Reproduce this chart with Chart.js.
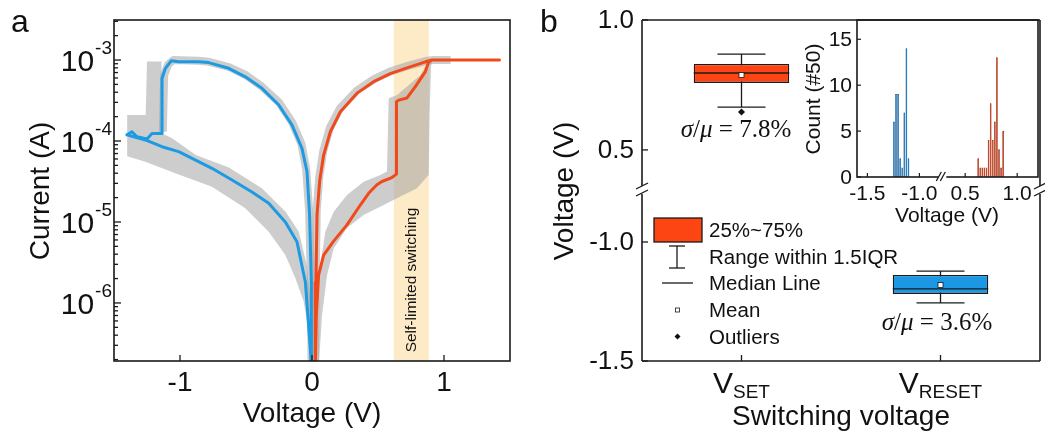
<!DOCTYPE html>
<html>
<head>
<meta charset="utf-8">
<script src="https://cdn.jsdelivr.net/npm/chart.js@4.4.1/dist/chart.umd.min.js"></script>
<style>
  body { margin: 0; background: #fff; }
  #wrap { position: relative; width: 1045px; height: 438px; overflow: hidden; }
  canvas { position: absolute; }
</style>
</head>
<body>
<div id="wrap">
  <canvas id="panelA" width="530" height="438" style="left:0;top:0"></canvas>
  <canvas id="panelB" width="515" height="438" style="left:530px;top:0"></canvas>
  <canvas id="inset" width="255" height="240" style="left:790px;top:0"></canvas>
</div>
<script>
// ---- panel a : I-V sweeps (V in volt, I in ampere) ----
// RESET sweep (blue): 0 -> -1.4 V on LRS, reset, back on HRS
var resetV = [-0.003, -0.005, -0.018, -0.038, -0.076, -0.152, -0.253, -0.379, -0.505, -0.631, -0.783, -0.859, -1.010, -1.066, -1.111, -1.136,
  -1.136, -1.212, -1.25, -1.326, -1.364, -1.402, -1.263, -1.136, -1.01, -0.758, -0.606, -0.455, -0.328, -0.202, -0.114, -0.05, -0.013, -0.003];
var resetI = [1.5e-7, 1.8e-6, 1.2e-5, 4.2e-5, 8.1e-5, 1.58e-4, 2.8e-4, 4.47e-4, 6.2e-4, 7.9e-4, 9.3e-4, 9.5e-4, 9.5e-4, 9.8e-4, 7.9e-4, 5.9e-4,
  1.24e-4, 1.24e-4, 1.06e-4, 1.13e-4, 1.3e-4, 1.19e-4, 1.03e-4, 8.5e-5, 7.4e-5, 4.6e-5, 3.3e-5, 2.34e-5, 1.7e-5, 1.0e-5, 5.7e-6, 1.8e-6, 2.75e-7, 1.5e-7];
// SET sweep (red): 0 -> 1.4 V, set, compliance, back on LRS
var setV = [0.025, 0.033, 0.05, 0.088, 0.164, 0.265, 0.366, 0.429, 0.492, 0.53, 0.60, 0.64, 0.64, 0.657, 0.72, 0.783, 0.859, 0.884, 0.909, 1.42,
  0.909, 0.859, 0.72, 0.593, 0.467, 0.341, 0.215, 0.139, 0.088, 0.058, 0.038, 0.03, 0.025];
var setI = [1.5e-7, 7.1e-7, 2.2e-6, 3.9e-6, 5.8e-6, 9.2e-6, 1.62e-5, 2.26e-5, 2.88e-5, 3.16e-5, 3.5e-5, 3.9e-5, 3.05e-4, 3.2e-4, 3.4e-4, 4.7e-4, 7.2e-4, 9.5e-4, 1.0e-3, 1.0e-3,
  1.0e-3, 9.5e-4, 8.0e-4, 6.8e-4, 5.4e-4, 3.9e-4, 2.3e-4, 1.3e-4, 6.7e-5, 3.2e-5, 1.23e-5, 1.8e-6, 1.5e-7];
// grey envelopes of the 50 cycles (outline points)
var greyNegV = [-1.40, -1.26, -1.25, -1.14, -1.14, -1.06, -0.88, -0.63, -0.38, -0.20, -0.10, -0.04, 0.0, 0.015,
  -0.005, -0.025, -0.063, -0.126, -0.202, -0.328, -0.505, -0.758, -1.01, -1.263, -1.40];
var greyNegI = [2.1e-4, 2.1e-4, 9.6e-4, 9.6e-4, 1.25e-4, 1.08e-4, 6.7e-5, 4.7e-5, 2.6e-5, 1.34e-5, 7.6e-6, 2.95e-6, 7.1e-7, 1.5e-7,
  1.5e-7, 4.4e-7, 1.04e-6, 2.02e-6, 3.9e-6, 7.6e-6, 1.48e-5, 2.73e-5, 3.87e-5, 5.56e-5, 6.46e-5];
var greySetV = [0.038, 0.05, 0.063, 0.101, 0.164, 0.265, 0.391, 0.518, 0.568, 0.581, 0.644, 0.72, 0.82, 0.871, 0.922,
  0.902, 0.891, 0.884, 0.795, 0.669, 0.543, 0.391, 0.265, 0.164, 0.114, 0.076, 0.05];
var greySetI = [1.5e-7, 7.1e-7, 2.94e-6, 7.6e-6, 1.34e-5, 2.15e-5, 3.15e-5, 3.8e-5, 4.2e-5, 3.37e-4, 3.7e-4, 4.7e-4, 6.5e-4, 8.9e-4, 1.02e-3,
  8.7e-4, 2.1e-4, 3.8e-5, 2.6e-5, 2.06e-5, 1.62e-5, 1.22e-5, 8.4e-6, 4.7e-6, 2.2e-6, 7.1e-7, 1.5e-7];
var greyLrsNegV = [-1.13, -1.12, -1.09, -1.05, -0.86, -0.78, -0.63, -0.50, -0.38, -0.25, -0.15, -0.08, -0.045, -0.022, -0.01, -0.003];
var greyLrsNegI = [1.3e-4, 6.5e-4, 8.8e-4, 1.0e-3, 9.8e-4, 9.5e-4, 8.2e-4, 6.5e-4, 4.7e-4, 3.0e-4, 1.7e-4, 9.2e-5, 4.6e-5, 1.4e-5, 2.5e-6, 1.5e-7];
var greyLrsPosV = [0.022, 0.028, 0.036, 0.055, 0.085, 0.135, 0.21, 0.34, 0.47, 0.59, 0.72, 0.86, 0.92, 1.05];
var greyLrsPosI = [1.5e-7, 2e-6, 1.4e-5, 3.6e-5, 7.5e-5, 1.45e-4, 2.5e-4, 4.2e-4, 5.8e-4, 7.2e-4, 8.4e-4, 9.7e-4, 1.0e-3, 1.0e-3];
var bandV = [0.62, 0.885];
var decadeTicks = [-3, -4, -5, -6];
var voltTicksA = [-1, 0, 1];

// ---- panel b : box plot of switching voltages ----
var boxNames = ['SET', 'RESET'];
var boxQ1 = [0.758, -1.218];
var boxQ3 = [0.831, -1.139];
var boxMedian = [0.796, -1.197];
var boxMean = [0.788, -1.181];
var whiskerLow = [0.665, -1.256];
var whiskerHigh = [0.869, -1.122];
var boxOutliers = [[0.646], []];
var boxSigma = ['7.8%', '3.6%'];
var yTicksTop = [1.0, 0.5];
var yTicksBot = [-1.0, -1.5];
var legendRows = ['25%~75%', 'Range within 1.5IQR', 'Median Line', 'Mean', 'Outliers'];

// ---- inset : histogram, 0.02 V bins ----
var resetBins = [-1.24, -1.22, -1.20, -1.18, -1.16, -1.14, -1.12, -1.10];
var resetCounts = [6, 9, 9, 2, 1, 7, 14, 2];
var setBins = [0.62, 0.64, 0.66, 0.68, 0.70, 0.72, 0.74, 0.76, 0.78, 0.80, 0.82, 0.84, 0.86];
var setCounts = [2, 1, 1, 1, 1, 4, 8, 4, 6, 13, 3, 1, 5];
var countTicks = [0, 5, 10, 15];
var insetTicksL = [-1.5, -1.0];
var insetTicksR = [0.5, 1.0];

var sans = '"Liberation Sans", Arial, Helvetica, sans-serif';
var serif = '"Liberation Serif", "Times New Roman", serif';
var ink = '#1a1a1a';
var blue = '#1d9be2';
var red = '#f0491c';
var boxRed = '#fd4514';
var boxBlue = '#1b97e3';
var grey = 'rgba(160,160,160,0.52)';

Chart.defaults.font.family = sans;
Chart.defaults.color = '#000';

function pts(xs, ys) {
  return xs.map(function(v, i) { return {x: v, y: ys[i]}; });
}

function line(ctx, x0, y0, x1, y1) {
  ctx.beginPath();
  ctx.moveTo(x0, y0);
  ctx.lineTo(x1, y1);
  ctx.stroke();
}

function text(ctx, s, x, y, font, align, base) {
  ctx.font = font;
  ctx.textAlign = align || 'left';
  ctx.textBaseline = base || 'alphabetic';
  ctx.fillText(s, x, y);
}

function vtext(ctx, s, x, y, font) {
  ctx.save();
  ctx.translate(x, y);
  ctx.rotate(-Math.PI / 2);
  text(ctx, s, 0, 0, font, 'center', 'middle');
  ctx.restore();
}

// two slanted strokes over a gap in an axis line
function axisBreak(ctx, x, y, vertical) {
  ctx.save();
  ctx.fillStyle = '#fff';
  ctx.strokeStyle = ink;
  ctx.lineWidth = 1.3;
  if (vertical) {
    ctx.fillRect(x - 3, y - 4, 6, 8);
    line(ctx, x - 6, y - 1, x + 6, y - 7);
    line(ctx, x - 6, y + 6, x + 6, y);
  } else {
    ctx.fillRect(x - 4, y - 3, 8, 6);
    line(ctx, x - 6, y + 4, x - 1, y - 5);
    line(ctx, x - 2, y + 4, x + 3, y - 5);
  }
  ctx.restore();
}

function fixedSize(w, h) {
  return function(scale) {
    if (w !== null) scale.width = w;
    if (h !== null) scale.height = h;
  };
}

var hidden = {ticks: {display: false}, grid: {display: false}, border: {display: false}};

function axis(extra) {
  return Object.assign({}, hidden, extra);
}

// ---------------- panel a ----------------
var panelAPlugin = {
  id: 'panelA',
  beforeDatasetsDraw: function(chart) {
    var ctx = chart.ctx, a = chart.chartArea, x = chart.scales.x;
    var x0 = x.getPixelForValue(bandV[0]), x1 = x.getPixelForValue(bandV[1]);
    ctx.save();
    ctx.fillStyle = '#fdebc8';
    ctx.fillRect(x0, a.top, x1 - x0, a.bottom - a.top);
    ctx.restore();
  },
  afterDatasetsDraw: function(chart) {
    var ctx = chart.ctx, a = chart.chartArea, x = chart.scales.x, y = chart.scales.y;
    ctx.save();
    ctx.fillStyle = '#111';
    vtext(ctx, 'Self-limited switching', (x.getPixelForValue(bandV[0]) + x.getPixelForValue(bandV[1])) / 2, 280, '15.5px ' + sans);

    ctx.strokeStyle = ink;
    ctx.lineWidth = 1.6;
    ctx.strokeRect(a.left, a.top, a.right - a.left, a.bottom - a.top);
    ctx.lineWidth = 1.3;
    for (var e = -7; e <= -3; e++) {
      for (var m = 1; m <= 9; m++) {
        var v = m * Math.pow(10, e);
        if (v < y.min || v > y.max) continue;
        var py = y.getPixelForValue(v);
        line(ctx, a.left, py, a.left + (m === 1 ? 7 : 4), py);
      }
    }
    voltTicksA.forEach(function(t) {
      var px = x.getPixelForValue(t);
      line(ctx, px, a.bottom, px, a.bottom - 6);
      text(ctx, String(t), px, 391, '28px ' + sans, 'center');
    });
    decadeTicks.forEach(function(d) {
      var py = y.getPixelForValue(Math.pow(10, d));
      ctx.font = '19px ' + sans;
      var ew = ctx.measureText(String(d)).width;
      text(ctx, String(d), a.left - 2, py - 6, '19px ' + sans, 'right');
      text(ctx, '10', a.left - 3 - ew, py + 11, '30px ' + sans, 'right');
    });
    vtext(ctx, 'Current (A)', 41, 191, '28px ' + sans);
    text(ctx, 'Voltage (V)', (a.left + a.right) / 2, 422, '28px ' + sans, 'center');
    text(ctx, 'a', 11, 32, '32px ' + sans, 'left');
    ctx.restore();
  }
};

function greyShape(xs, ys) {
  return {data: pts(xs, ys), showLine: true, fill: 'shape', backgroundColor: grey,
    borderColor: 'rgba(0,0,0,0)', borderWidth: 0, pointRadius: 0, order: 3};
}

function greyLine(xs, ys) {
  return {data: pts(xs, ys), showLine: true, fill: false, borderColor: grey,
    borderWidth: 8, borderJoinStyle: 'round', pointRadius: 0, order: 2};
}

new Chart(document.getElementById('panelA'), {
  type: 'scatter',
  data: {
    datasets: [
      {data: pts(resetV, resetI), showLine: true, borderColor: blue, borderWidth: 3, pointRadius: 0, order: 0},
      {data: pts(setV, setI), showLine: true, borderColor: red, borderWidth: 3, pointRadius: 0, order: 0},
      greyLine(greyLrsNegV, greyLrsNegI),
      greyLine(greyLrsPosV, greyLrsPosI),
      greyShape(greyNegV, greyNegI),
      greyShape(greySetV, greySetI)
    ]
  },
  options: {
    responsive: false,
    animation: false,
    devicePixelRatio: 1,
    layout: {padding: {left: 0, top: 20, right: 20, bottom: 0}},
    plugins: {legend: {display: false}, tooltip: {enabled: false}},
    elements: {line: {tension: 0, borderJoinStyle: 'round'}},
    scales: {
      x: axis({type: 'linear', min: -1.5, max: 1.5, afterFit: fixedSize(null, 77)}),
      y: axis({type: 'logarithmic', min: 1.92e-7, max: 3.12e-3, afterFit: fixedSize(114, null)})
    }
  },
  plugins: [panelAPlugin]
});

// ---------------- panel b ----------------
var boxAxes = ['yTop', 'yBot'];

function sigmaText(ctx, value, cx, cy) {
  var parts = [['σ', 'italic 25px '], ['/', '25px '], ['μ', 'italic 25px '], [' = ' + value, '25px ']];
  var w = 0;
  parts.forEach(function(p) { ctx.font = p[1] + serif; w += ctx.measureText(p[0]).width; });
  var px = cx - w / 2;
  parts.forEach(function(p) {
    text(ctx, p[0], px, cy, p[1] + serif, 'left', 'middle');
    px += ctx.measureText(p[0]).width;
  });
}

var panelBPlugin = {
  id: 'panelB',
  beforeDatasetsDraw: function(chart) {
    var ctx = chart.ctx, x = chart.scales.x;
    ctx.save();
    ctx.strokeStyle = ink;
    ctx.lineWidth = 1.3;
    boxNames.forEach(function(n, i) {
      var y = chart.scales[boxAxes[i]];
      var px = x.getPixelForValue(i);
      line(ctx, px, y.getPixelForValue(whiskerHigh[i]), px, y.getPixelForValue(whiskerLow[i]));
      line(ctx, px - 24, y.getPixelForValue(whiskerHigh[i]), px + 24, y.getPixelForValue(whiskerHigh[i]));
      line(ctx, px - 24, y.getPixelForValue(whiskerLow[i]), px + 24, y.getPixelForValue(whiskerLow[i]));
    });
    ctx.restore();
  },
  afterDatasetsDraw: function(chart) {
    var ctx = chart.ctx, x = chart.scales.x;
    ctx.save();
    ctx.strokeStyle = ink;
    ctx.lineWidth = 1.3;
    boxNames.forEach(function(n, i) {
      var y = chart.scales[boxAxes[i]];
      var px = x.getPixelForValue(i);
      var half = chart.getDatasetMeta(i).data[i].width / 2;
      var pm = y.getPixelForValue(boxMedian[i]);
      line(ctx, px - half, pm, px + half, pm);
      var pmean = y.getPixelForValue(boxMean[i]);
      ctx.fillStyle = '#fff';
      ctx.fillRect(px - 2.5, pmean - 2.5, 5, 5);
      ctx.lineWidth = 0.8;
      ctx.strokeRect(px - 2.5, pmean - 2.5, 5, 5);
      ctx.lineWidth = 1.3;
      ctx.fillStyle = '#111';
      boxOutliers[i].forEach(function(o) {
        var po = y.getPixelForValue(o);
        ctx.beginPath();
        ctx.moveTo(px, po - 3.5); ctx.lineTo(px + 3.5, po); ctx.lineTo(px, po + 3.5); ctx.lineTo(px - 3.5, po);
        ctx.closePath();
        ctx.fill();
      });
    });
    ctx.restore();
  },
  afterDraw: function(chart) {
    var ctx = chart.ctx, a = chart.chartArea, x = chart.scales.x;
    var yT = chart.scales.yTop, yB = chart.scales.yBot;
    var brk = yT.bottom - 2;
    ctx.save();
    ctx.strokeStyle = ink;
    ctx.fillStyle = '#111';
    ctx.lineWidth = 1.6;
    line(ctx, a.left, a.top, a.right, a.top);
    line(ctx, a.left, a.bottom, a.right, a.bottom);
    line(ctx, a.left, a.top, a.left, a.bottom);
    line(ctx, a.right, a.top, a.right, a.bottom);
    axisBreak(ctx, a.left, brk, true);
    axisBreak(ctx, a.right, brk, true);
    ctx.lineWidth = 1.3;
    yTicksTop.forEach(function(t) {
      var py = yT.getPixelForValue(t);
      line(ctx, a.left, py, a.left + 6, py);
      text(ctx, t.toFixed(1), 104, py + 1, '26px ' + sans, 'right', 'middle');
    });
    yTicksBot.forEach(function(t) {
      var py = yB.getPixelForValue(t);
      line(ctx, a.left, py, a.left + 6, py);
      text(ctx, t.toFixed(1), 104, py + 1, '26px ' + sans, 'right', 'middle');
    });
    boxNames.forEach(function(n, i) {
      var px = x.getPixelForValue(i);
      line(ctx, px, a.bottom, px, a.bottom - 6);
      ctx.font = '30px ' + sans;
      var wv = ctx.measureText('V').width;
      ctx.font = '19px ' + sans;
      var ws = ctx.measureText(n).width;
      var left = px - (wv + ws) / 2;
      text(ctx, 'V', left, 393, '30px ' + sans, 'left');
      text(ctx, n, left + wv, 398, '19px ' + sans, 'left');
      sigmaText(ctx, boxSigma[i], i === 0 ? 206 : 407, i === 0 ? 130 : 323);
    });
    vtext(ctx, 'Voltage (V)', 35, 191, '28px ' + sans);
    text(ctx, 'Switching voltage', (a.left + a.right) / 2, 425, '28px ' + sans, 'center');
    text(ctx, 'b', 10, 32, '32px ' + sans, 'left');

    // legend
    var lf = '20.5px ' + sans;
    ctx.fillStyle = boxRed;
    ctx.fillRect(124, 218, 48, 24);
    ctx.strokeRect(124, 218, 48, 24);
    ctx.fillStyle = '#111';
    line(ctx, 147, 246, 147, 268);
    line(ctx, 139, 246, 155, 246);
    line(ctx, 139, 268, 155, 268);
    line(ctx, 132, 283, 163, 283);
    ctx.lineWidth = 0.8;
    ctx.strokeRect(145.5, 308, 4, 4);
    ctx.beginPath();
    ctx.moveTo(147.5, 333.5); ctx.lineTo(150.5, 336.5); ctx.lineTo(147.5, 339.5); ctx.lineTo(144.5, 336.5);
    ctx.closePath();
    ctx.fill();
    var rowsY = [230, 257, 283, 310, 337];
    legendRows.forEach(function(s, i) {
      text(ctx, s, 179, rowsY[i] + 1, lf, 'left', 'middle');
    });
    ctx.restore();
  }
};

new Chart(document.getElementById('panelB'), {
  type: 'bar',
  data: {
    labels: boxNames,
    datasets: [
      {data: [[boxQ1[0], boxQ3[0]], null], yAxisID: 'yTop', backgroundColor: boxRed},
      {data: [null, [boxQ1[1], boxQ3[1]]], yAxisID: 'yBot', backgroundColor: boxBlue}
    ]
  },
  options: {
    responsive: false,
    animation: false,
    devicePixelRatio: 1,
    layout: {padding: {left: 0, top: 20, right: 5, bottom: 0}},
    plugins: {legend: {display: false}, tooltip: {enabled: false}},
    datasets: {bar: {grouped: false, barPercentage: 0.48, categoryPercentage: 1, borderWidth: 1.3,
      borderColor: ink, borderSkipped: false}},
    scales: {
      x: axis({type: 'category', offset: true, afterFit: fixedSize(null, 77)}),
      yTop: axis({type: 'linear', position: 'left', min: 0.338, max: 1.0, beginAtZero: false,
        stack: 'volt', stackWeight: 172, weight: 1, afterFit: fixedSize(112, null)}),
      yBot: axis({type: 'linear', position: 'left', min: -1.5, max: -0.79, beginAtZero: false,
        stack: 'volt', stackWeight: 169, weight: 0, afterFit: fixedSize(112, null)})
    }
  },
  plugins: [panelBPlugin]
});

// ---------------- inset histogram ----------------
var insetPlugin = {
  id: 'inset',
  afterDraw: function(chart) {
    var ctx = chart.ctx, a = chart.chartArea, y = chart.scales.y;
    var xL = chart.scales.xL, xR = chart.scales.xR;
    var f = '21px ' + sans;
    ctx.save();
    ctx.strokeStyle = ink;
    ctx.fillStyle = '#111';
    ctx.lineWidth = 1.6;
    ctx.strokeRect(a.left, a.top, a.right - a.left, a.bottom - a.top);
    axisBreak(ctx, xL.right, a.bottom, false);
    ctx.lineWidth = 1.2;
    countTicks.forEach(function(t) {
      var py = y.getPixelForValue(t);
      line(ctx, a.left, py, a.left + 4, py);
      text(ctx, String(t), a.left - 5, py + 1, f, 'right', 'middle');
    });
    [[xL, insetTicksL], [xR, insetTicksR]].forEach(function(pair) {
      pair[1].forEach(function(t) {
        var px = pair[0].getPixelForValue(t);
        line(ctx, px, a.bottom, px, a.bottom - 4);
        text(ctx, t.toFixed(1), px, 194, f, 'center', 'middle');
      });
    });
    text(ctx, 'Voltage (V)', 157, 216, f, 'center', 'middle');
    vtext(ctx, 'Count (#50)', 24, 99, f);
    ctx.restore();
  }
};

new Chart(document.getElementById('inset'), {
  type: 'bar',
  data: {
    datasets: [
      {data: pts(resetBins, resetCounts), xAxisID: 'xL', backgroundColor: '#1b7cc6', borderColor: '#14497a', borderWidth: 0.4},
      {data: pts(setBins, setCounts), xAxisID: 'xR', backgroundColor: '#d43c18', borderColor: '#80230c', borderWidth: 0.4}
    ]
  },
  options: {
    responsive: false,
    animation: false,
    devicePixelRatio: 1,
    layout: {padding: {left: 0, top: 20, right: 7, bottom: 0}},
    plugins: {legend: {display: false}, tooltip: {enabled: false}},
    datasets: {bar: {barPercentage: 1, categoryPercentage: 1}},
    scales: {
      xL: axis({type: 'linear', position: 'bottom', offset: false, min: -1.6, max: -0.78,
        stack: 'volt', stackWeight: 0.82, weight: 0, afterFit: fixedSize(null, 63)}),
      xR: axis({type: 'linear', position: 'bottom', offset: false, min: 0.28, max: 1.2,
        stack: 'volt', stackWeight: 0.92, weight: 1, afterFit: fixedSize(null, 63)}),
      y: axis({type: 'linear', min: 0, max: 17.1, beginAtZero: false, afterFit: fixedSize(67, null)})
    }
  },
  plugins: [insetPlugin]
});
</script>
</body>
</html>
